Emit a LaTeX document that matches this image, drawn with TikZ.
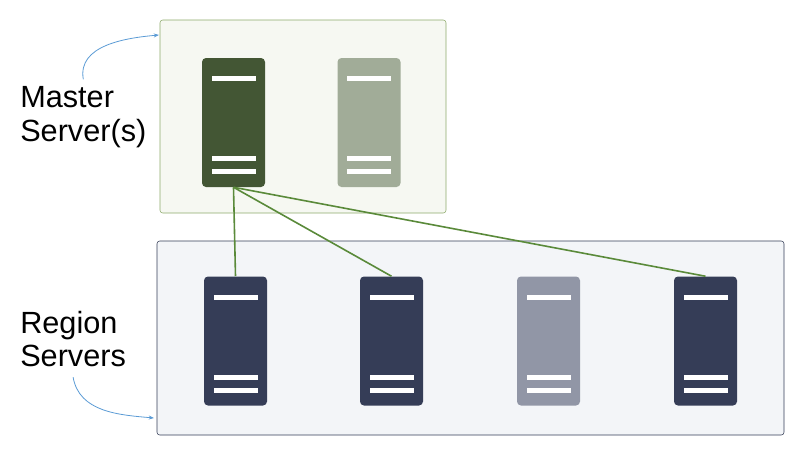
\documentclass[tikz,border=0pt]{standalone}
\usepackage{fontspec}
\setmainfont{Liberation Sans}
\usetikzlibrary{arrows.meta}
\definecolor{masterdark}{HTML}{435634}
\definecolor{masterlight}{HTML}{A1AC98}
\definecolor{regiondark}{HTML}{353D57}
\definecolor{regionlight}{HTML}{9196A6}
\definecolor{linkgreen}{HTML}{5A8A3A}
\definecolor{callout}{HTML}{5B9BD5}
\begin{document}
\begin{tikzpicture}[x=0.75pt,y=-0.75pt,
  server/.style={draw=none,rounded corners=3pt,minimum width=47.25pt,minimum height=96.75pt,inner sep=0pt},
  bar/.style={fill=white,draw=none},
  link/.style={linkgreen,line width=1.2pt},
  note/.style={callout,line width=0.6pt,-{Stealth[length=4pt]}},
  label/.style={align=left,anchor=west,inner sep=0pt,font=\fontsize{23pt}{25pt}\selectfont}]
	\useasboundingbox (0,0) rectangle (808,471);
	\draw [fill={rgb,255:red,246;green,248;blue,242}, draw={rgb,255:red,141;green,170;blue,106}, rounded corners=2pt] (160,20) rectangle (446,213);
	\draw [fill={rgb,255:red,243;green,245;blue,248}, draw=regiondark, rounded corners=2pt] (157,241) rectangle (784,435);

	\node (M1) [server, fill=masterdark] at (233.5,122.5) {};
	\node (M2) [server, fill=masterlight] at (369,122.5) {};
	\node (R1) [server, fill=regiondark] at (235.5,341) {};
	\node (R2) [server, fill=regiondark] at (391.5,341) {};
	\node (R3) [server, fill=regionlight] at (548.5,341) {};
	\node (R4) [server, fill=regiondark] at (705.5,341) {};

	\foreach \s in {M1,M2,R1,R2,R3,R4} {
		\fill [bar] ([xshift=-16.5pt,yshift=-14pt]\s.north) rectangle ([xshift=16.5pt,yshift=-17.75pt]\s.north);
		\fill [bar] ([xshift=-16.5pt,yshift=23.25pt]\s.south) rectangle ([xshift=16.5pt,yshift=19.5pt]\s.south);
		\fill [bar] ([xshift=-16.5pt,yshift=13.5pt]\s.south) rectangle ([xshift=16.5pt,yshift=9.75pt]\s.south);
	}

	\draw [link] (M1.south) -- (R1.north);
	\draw [link] (M1.south) -- (R2.north);
	\draw [link] (M1.south) -- (R4.north);

	\node (mlabel) [label] at (20,117) {Master\\Server(s)};
	\node (rlabel) [label] at (20,339) {Region\\Servers};
	\coordinate (mtip) at (159,35);
	\coordinate (rtip) at (154,418);
	\draw [note] (mlabel.north) ++(0,-7) to [out=100, in=185] (mtip);
	\draw [note] (rlabel.south) ++(0,10) to [out=-80, in=175] (rtip);
\end{tikzpicture}
\end{document}
